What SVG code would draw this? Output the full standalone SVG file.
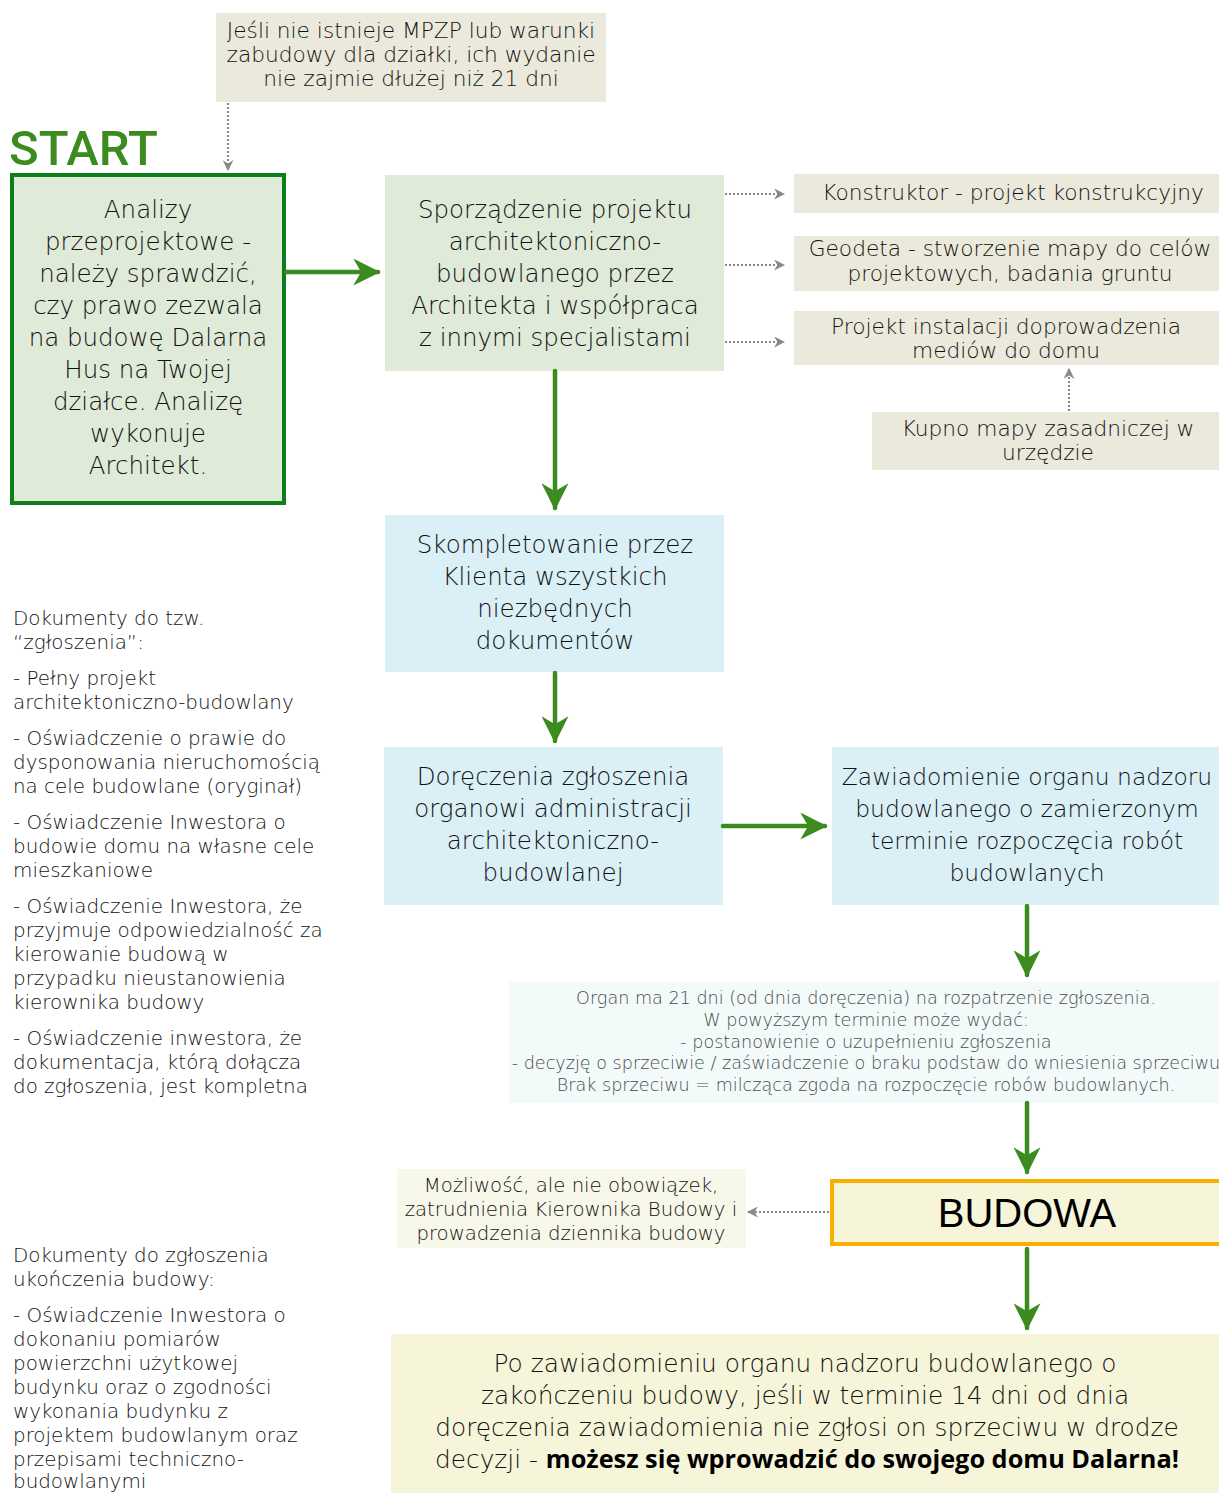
<svg xmlns="http://www.w3.org/2000/svg" width="1219" height="1493" viewBox="0 0 1219 1493">
<defs>
<style>
.t{font-family:"DejaVu Sans","Open Sans",sans-serif;font-weight:200;fill:#111;}
.c{text-anchor:middle;}
.big{font-size:24.5px;}
.mid{font-size:21.7px;}
.sm{font-size:17.6px;fill:#4a4a4a;}
.side{font-size:19.9px;}
.green{fill:#dfead8;}
.blue{fill:#daf0f6;}
.tan{fill:#eae9db;}
.cream{fill:#f6f5da;}
.flow{stroke:#3b8b1f;stroke-width:4.5;fill:none;stroke-linecap:round;}
.dot{stroke:#888;stroke-width:2.2;fill:none;stroke-dasharray:2 2;}
</style>
<marker id="ga" viewBox="0 0 12 12" refX="11" refY="6" markerWidth="6" markerHeight="6" markerUnits="strokeWidth" orient="auto">
<path d="M0,0 L12,6 L0,12 L3.5,6 z" fill="#3b8b1f"/>
</marker>
<marker id="da" viewBox="0 0 10 10" refX="9" refY="5" markerWidth="5" markerHeight="5" markerUnits="strokeWidth" orient="auto">
<path d="M0,0 L10,5 L0,10 L3,5 z" fill="#888"/>
</marker>
</defs>
<rect width="1219" height="1493" fill="#ffffff"/>

<g id="note-mpzp">
<rect x="216" y="13" width="390" height="89" class="tan"/>
<text class="t mid c" x="411" y="38">Jeśli nie istnieje MPZP lub warunki</text>
<text class="t mid c" x="411" y="62">zabudowy dla działki, ich wydanie</text>
<text class="t mid c" x="411" y="86">nie zajmie dłużej niż 21 dni</text>
</g>

<g id="start-label">
<text x="9" y="165" style="font-family:Roboto,'Liberation Sans',sans-serif;font-weight:500;font-size:49px;fill:#3b8b1f;">START</text>
</g>

<g id="analizy">
<rect x="12" y="175" width="272" height="328" class="green" stroke="#0e7d1b" stroke-width="4"/>
<text class="t big c" x="148" y="218">Analizy</text>
<text class="t big c" x="148" y="250">przeprojektowe -</text>
<text class="t big c" x="148" y="282">należy sprawdzić,</text>
<text class="t big c" x="148" y="314">czy prawo zezwala</text>
<text class="t big c" x="148" y="346">na budowę Dalarna</text>
<text class="t big c" x="148" y="378">Hus na Twojej</text>
<text class="t big c" x="148" y="410">działce. Analizę</text>
<text class="t big c" x="148" y="442">wykonuje</text>
<text class="t big c" x="148" y="474">Architekt.</text>
</g>

<g id="projekt">
<rect x="385" y="175" width="339" height="196" class="green"/>
<text class="t big c" x="555" y="218">Sporządzenie projektu</text>
<text class="t big c" x="555" y="250">architektoniczno-</text>
<text class="t big c" x="555" y="282">budowlanego przez</text>
<text class="t big c" x="555" y="314">Architekta i współpraca</text>
<text class="t big c" x="555" y="346">z innymi specjalistami</text>
</g>

<g id="konstruktor">
<rect x="794" y="174" width="425" height="39" class="tan"/>
<text class="t mid c" x="1013" y="200">Konstruktor - projekt konstrukcyjny</text>
</g>

<g id="geodeta">
<rect x="794" y="236" width="425" height="55" class="tan"/>
<text class="t mid c" x="1010" y="256">Geodeta - stworzenie mapy do celów</text>
<text class="t mid c" x="1010" y="281">projektowych, badania gruntu</text>
</g>

<g id="instalacje">
<rect x="794" y="311" width="425" height="54" class="tan"/>
<text class="t mid c" x="1006" y="334">Projekt instalacji doprowadzenia</text>
<text class="t mid c" x="1006" y="358">mediów do domu</text>
</g>

<g id="kupno">
<rect x="872" y="412" width="347" height="58" class="tan"/>
<text class="t mid c" x="1048" y="436">Kupno mapy zasadniczej w</text>
<text class="t mid c" x="1048" y="460">urzędzie</text>
</g>

<g id="skompletowanie">
<rect x="385" y="515" width="339" height="157" class="blue"/>
<text class="t big c" x="555" y="553">Skompletowanie przez</text>
<text class="t big c" x="555" y="585">Klienta wszystkich</text>
<text class="t big c" x="555" y="617">niezbędnych</text>
<text class="t big c" x="555" y="649">dokumentów</text>
</g>

<g id="doreczenie">
<rect x="384" y="747" width="339" height="158" class="blue"/>
<text class="t big c" x="553" y="785">Doręczenia zgłoszenia</text>
<text class="t big c" x="553" y="817">organowi administracji</text>
<text class="t big c" x="553" y="849">architektoniczno-</text>
<text class="t big c" x="553" y="881">budowlanej</text>
</g>

<g id="zawiadomienie">
<rect x="832" y="747" width="387" height="158" class="blue"/>
<text class="t c" style="font-size:23.4px" x="1027" y="785">Zawiadomienie organu nadzoru</text>
<text class="t c" style="font-size:23.4px" x="1027" y="817">budowlanego o zamierzonym</text>
<text class="t c" style="font-size:23.4px" x="1027" y="849">terminie rozpoczęcia robót</text>
<text class="t c" style="font-size:23.4px" x="1027" y="881">budowlanych</text>
</g>

<g id="organ">
<rect x="509" y="982" width="710" height="121" fill="#f3fafa"/>
<text class="t sm c" x="866" y="1004">Organ ma 21 dni (od dnia doręczenia) na rozpatrzenie zgłoszenia.</text>
<text class="t sm c" x="866" y="1026">W powyższym terminie może wydać:</text>
<text class="t sm c" x="866" y="1048">- postanowienie o uzupełnieniu zgłoszenia</text>
<text class="t sm c" x="866" y="1069">- decyzję o sprzeciwie / zaświadczenie o braku podstaw do wniesienia sprzeciwu</text>
<text class="t sm c" x="866" y="1091">Brak sprzeciwu = milcząca zgoda na rozpoczęcie robów budowlanych.</text>
</g>

<g id="mozliwosc">
<rect x="397" y="1169" width="349" height="79" fill="#f8f8ea"/>
<text class="t c" style="font-size:19.7px" x="571" y="1192">Możliwość, ale nie obowiązek,</text>
<text class="t c" style="font-size:19.7px" x="571" y="1216">zatrudnienia Kierownika Budowy i</text>
<text class="t c" style="font-size:19.7px" x="571" y="1240">prowadzenia dziennika budowy</text>
</g>

<g id="budowa">
<rect x="832" y="1181" width="392" height="63" class="cream" stroke="#f9b000" stroke-width="4"/>
<text x="1027" y="1227" text-anchor="middle" style="font-family:'Liberation Sans',Arial,sans-serif;font-size:40px;fill:#000;">BUDOWA</text>
</g>

<g id="final">
<rect x="391" y="1334" width="828" height="159" class="cream"/>
<text class="t c" style="font-size:24.8px" x="805" y="1372">Po zawiadomieniu organu nadzoru budowlanego o</text>
<text class="t c" style="font-size:24.8px" x="805" y="1404">zakończeniu budowy, jeśli w terminie 14 dni od dnia</text>
<text class="t c" style="font-size:24.8px" x="807" y="1436">doręczenia zawiadomienia nie zgłosi on sprzeciwu w drodze</text>
<text class="t c" style="font-size:24.8px" x="807" y="1468">decyzji - <tspan style="font-family:'Open Sans',sans-serif;font-weight:700;font-size:25.3px;fill:#000">możesz się wprowadzić do swojego domu Dalarna!</tspan></text>
</g>

<g id="docs-zgloszenie">
<text class="t side" x="13" y="625">Dokumenty do tzw.</text>
<text class="t side" x="13" y="649">“zgłoszenia”:</text>
<text class="t side" x="13" y="685">- Pełny projekt</text>
<text class="t side" x="13" y="709">architektoniczno-budowlany</text>
<text class="t side" x="13" y="745">- Oświadczenie o prawie do</text>
<text class="t side" x="13" y="769">dysponowania nieruchomością</text>
<text class="t side" x="13" y="793">na cele budowlane (oryginał)</text>
<text class="t side" x="13" y="829">- Oświadczenie Inwestora o</text>
<text class="t side" x="13" y="853">budowie domu na własne cele</text>
<text class="t side" x="13" y="877">mieszkaniowe</text>
<text class="t side" x="13" y="913">- Oświadczenie Inwestora, że</text>
<text class="t side" x="13" y="937">przyjmuje odpowiedzialność za</text>
<text class="t side" x="13" y="961">kierowanie budową w</text>
<text class="t side" x="13" y="985">przypadku nieustanowienia</text>
<text class="t side" x="13" y="1009">kierownika budowy</text>
<text class="t side" x="13" y="1045">- Oświadczenie inwestora, że</text>
<text class="t side" x="13" y="1069">dokumentacja, którą dołącza</text>
<text class="t side" x="13" y="1093">do zgłoszenia, jest kompletna</text>
</g>

<g id="docs-ukonczenie">
<text class="t side" x="13" y="1262">Dokumenty do zgłoszenia</text>
<text class="t side" x="13" y="1286">ukończenia budowy:</text>
<text class="t side" x="13" y="1322">- Oświadczenie Inwestora o</text>
<text class="t side" x="13" y="1346">dokonaniu pomiarów</text>
<text class="t side" x="13" y="1370">powierzchni użytkowej</text>
<text class="t side" x="13" y="1394">budynku oraz o zgodności</text>
<text class="t side" x="13" y="1418">wykonania budynku z</text>
<text class="t side" x="13" y="1442">projektem budowlanym oraz</text>
<text class="t side" x="13" y="1466">przepisami techniczno-</text>
<text class="t side" x="13" y="1488">budowlanymi</text>
</g>

<g id="connectors">
<path class="flow" d="M286,272 H378" marker-end="url(#ga)"/>
<path class="flow" d="M555,371 V508" marker-end="url(#ga)"/>
<path class="flow" d="M555,673 V741" marker-end="url(#ga)"/>
<path class="flow" d="M723,826 H825" marker-end="url(#ga)"/>
<path class="flow" d="M1027,906 V975" marker-end="url(#ga)"/>
<path class="flow" d="M1027,1103 V1172" marker-end="url(#ga)"/>
<path class="flow" d="M1027,1249 V1328" marker-end="url(#ga)"/>
<path class="dot" d="M228,103 V170" marker-end="url(#da)"/>
<path class="dot" d="M725,194 H784" marker-end="url(#da)"/>
<path class="dot" d="M725,265 H784" marker-end="url(#da)"/>
<path class="dot" d="M725,342 H784" marker-end="url(#da)"/>
<path class="dot" d="M1069,411 V369" marker-end="url(#da)"/>
<path class="dot" d="M829,1212 H748" marker-end="url(#da)"/>
</g>
</svg>
